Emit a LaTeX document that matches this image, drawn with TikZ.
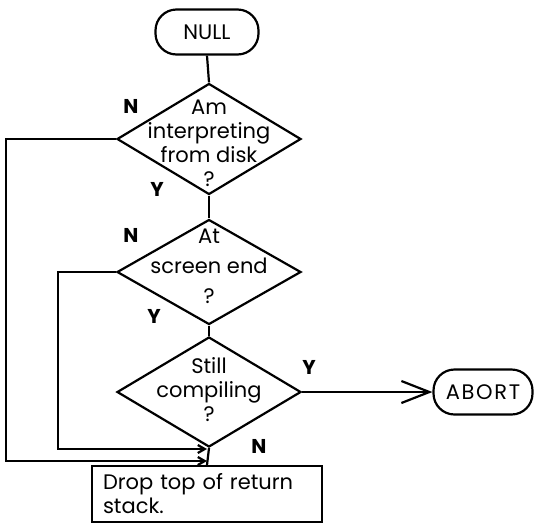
\documentclass[tikz,border=0pt]{standalone}
\usepackage{fontspec}
\setmainfont{Poppins}
\usetikzlibrary{shapes.geometric,arrows.meta}
\begin{document}
\begin{tikzpicture}[x=1pt,y=-1pt,line width=2.2pt,
  term/.style={draw,rectangle,rounded corners=21pt,minimum width=#1,minimum height=45pt,inner sep=0pt,font=\fontsize{21}{24}\selectfont},
  dia/.style={draw,diamond,inner sep=0pt,minimum width=184pt,minimum height=#1},
  dtext/.style={align=center,inner sep=0pt,font=\fontsize{21}{24}\selectfont},
  yn/.style={inner sep=0pt,font=\fontsize{20}{20}\selectfont\bfseries},
  big/.style={-{Straight Barb[length=28pt,width=22pt]}},
  small/.style={-{Straight Barb[length=7pt,width=8pt]}}]
\useasboundingbox (0,0) rectangle (534,523);

\node[term=103pt] (null) at (207,32) {NULL};
\node[dia=111pt] (d1) at (209,139) {};
\node[dtext] (t1) at (209,143) {Am\\interpreting\\from disk\\?};
\node[dia=105pt] (d2) at (209,272) {};
\node[dtext,font=\fontsize{21}{30}\selectfont] (t2) at (209,266) {At\\screen end\\?};
\node[dia=110pt] (d3) at (209,392) {};
\node[dtext] (t3) at (209,390) {Still\\compiling\\?};
\node[term=99pt,font=\fontsize{21}{24}\selectfont\addfontfeatures{LetterSpace=8}] (abort) at (483,392) {ABORT};
\node[draw,rectangle,minimum width=230pt,minimum height=56pt,text width=208pt,align=left,inner sep=0pt,font=\fontsize{21}{24}\selectfont] (box) at (207,494) {Drop top of return\\stack.};

\node[yn] (n1) at (131,106) {N};
\node[yn] (y1) at (157,189) {Y};
\node[yn] (n2) at (131,235) {N};
\node[yn] (y2) at (154,316) {Y};
\node[yn] (y3) at (309,367) {Y};
\node[yn] (n3) at (259,446) {N};

\coordinate (c1) at (6,461);
\coordinate (c2) at (58,449);
\coordinate (j1) at (207,461);
\coordinate (j2) at (207,449);

\draw (null.south) -- (d1.north);
\draw (d1.south) -- (d2.north);
\draw (d2.south) -- (d3.north);
\draw (d3.south) -- (box.north);
\draw[big] (d3.east) -- (abort.west);
\draw[small] (d1.west) -- (d1.west -| c1) -- (c1) -- (j1);
\draw[small] (d2.west) -- (d2.west -| c2) -- (c2) -- (j2);
\end{tikzpicture}
\end{document}
